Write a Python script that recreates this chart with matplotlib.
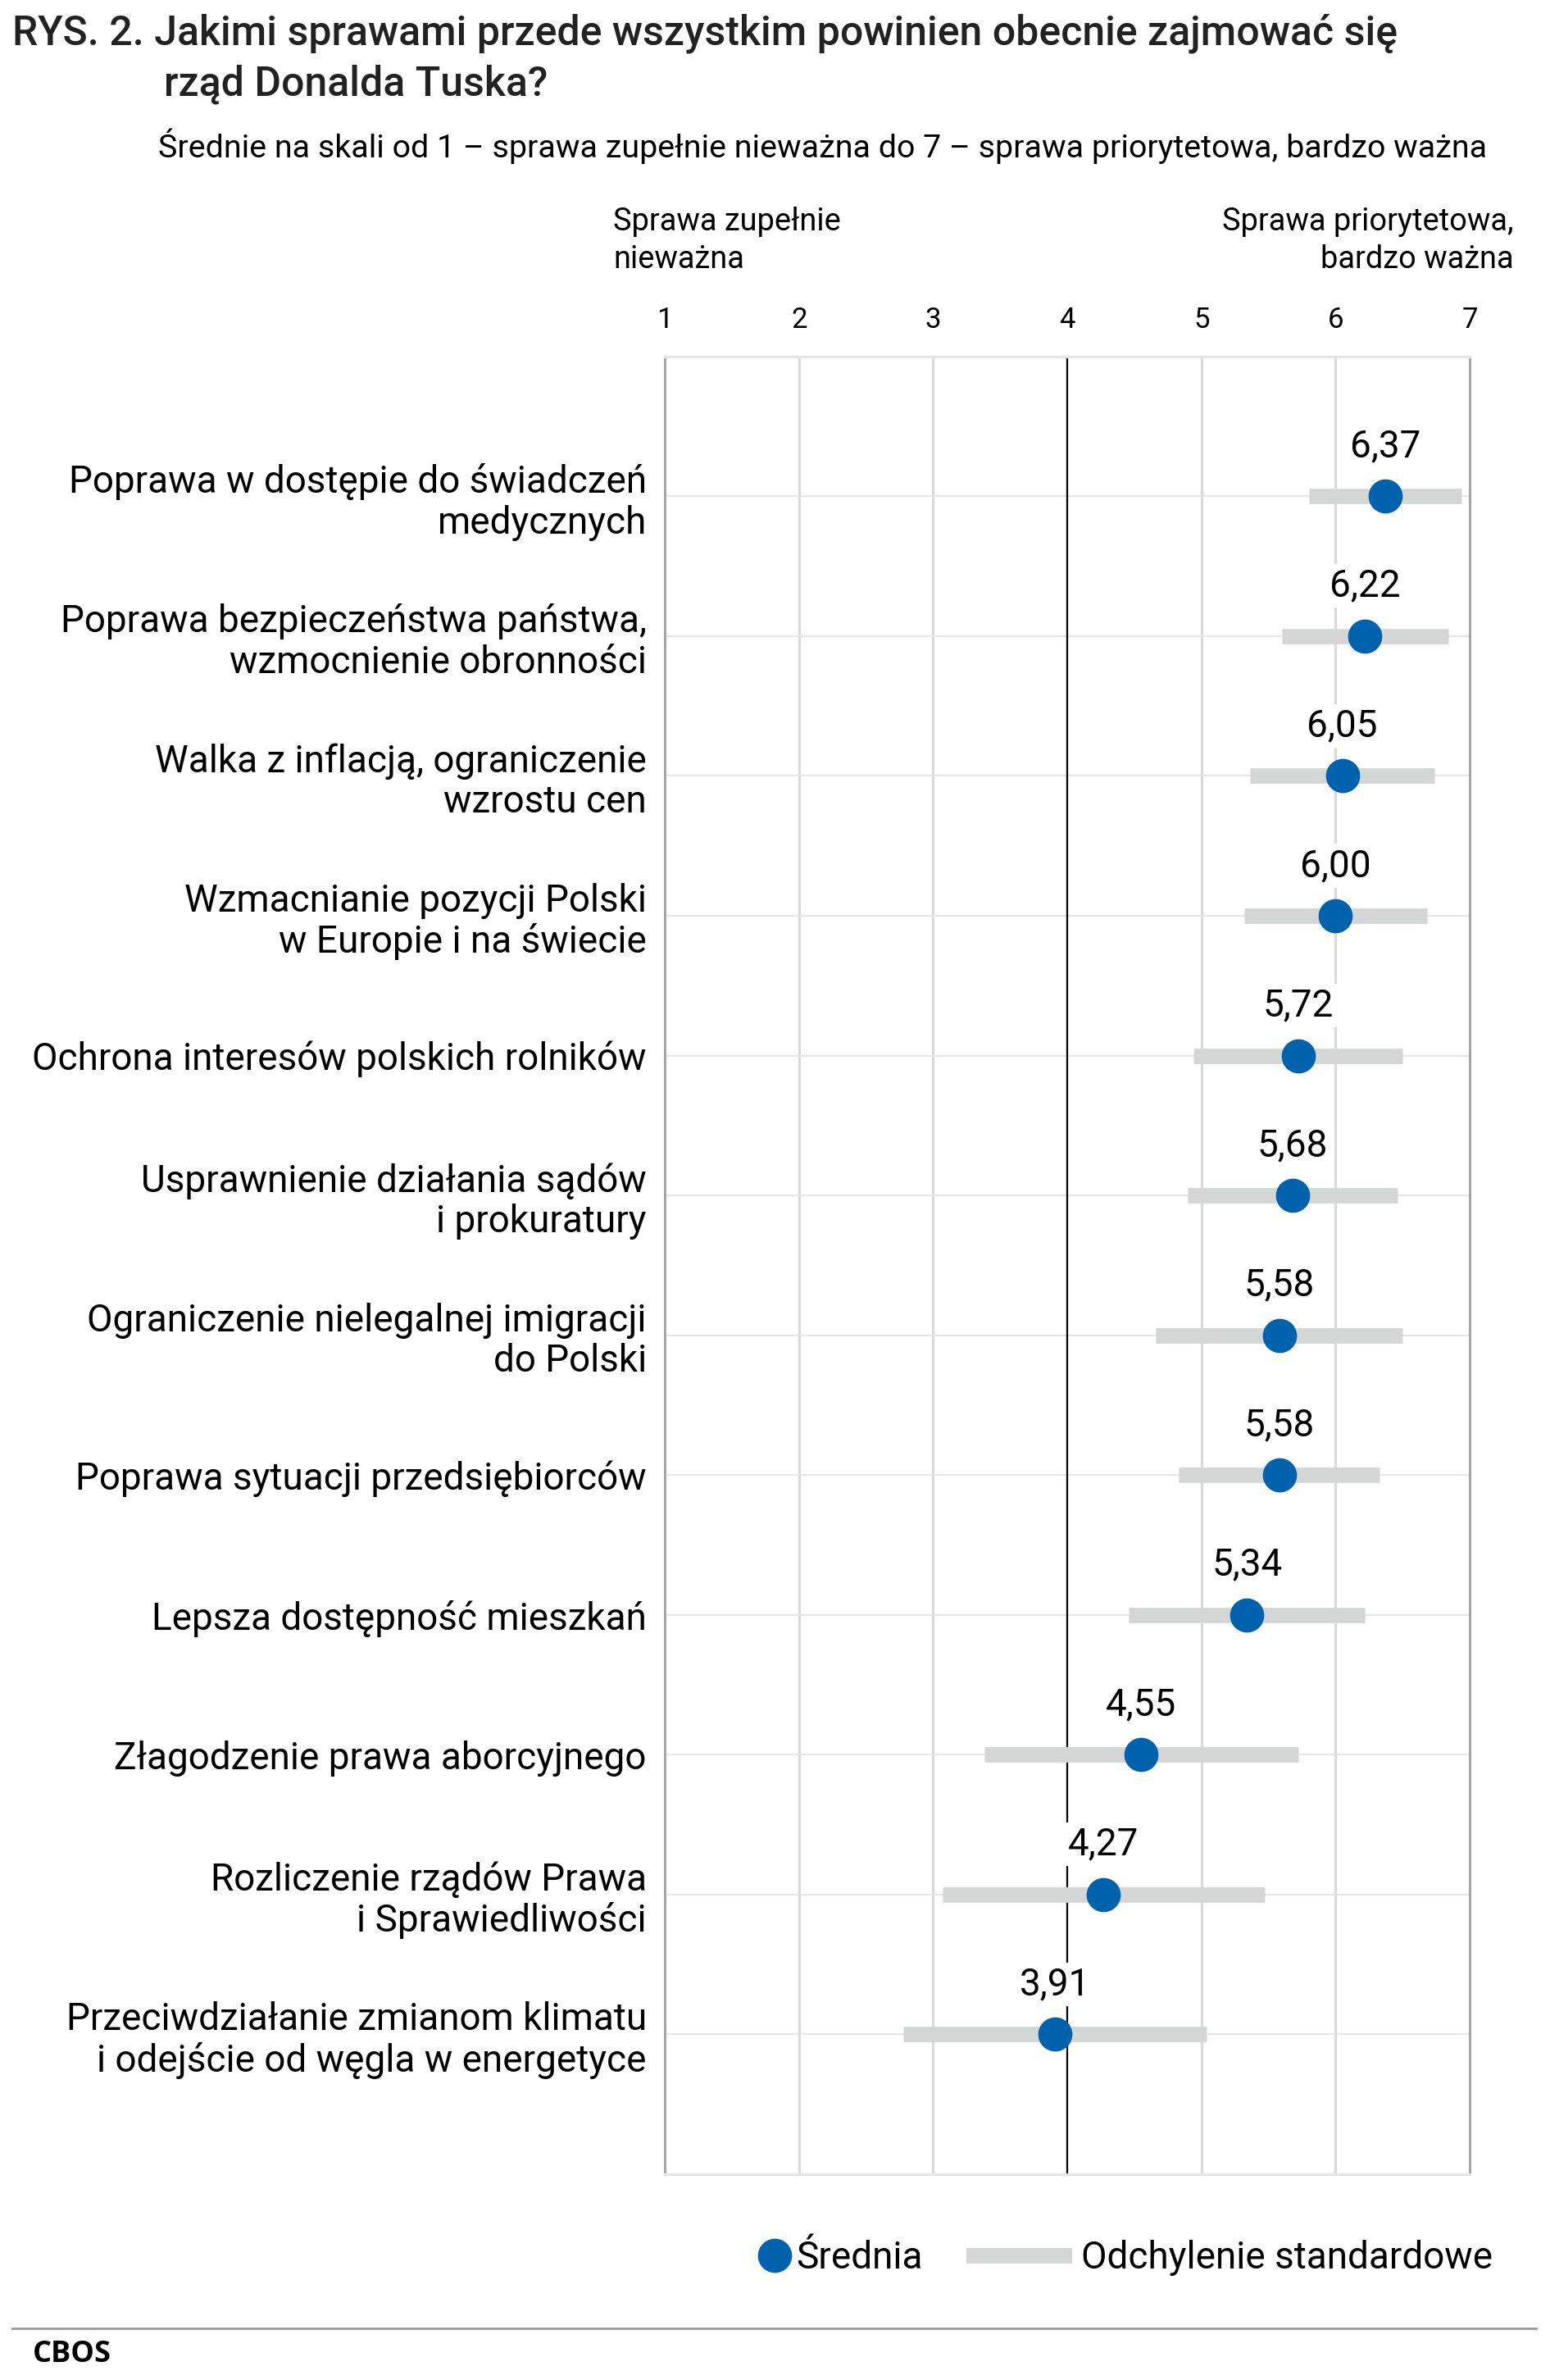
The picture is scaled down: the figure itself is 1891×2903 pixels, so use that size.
import numpy as np
import matplotlib.pyplot as plt
from matplotlib.lines import Line2D

plt.rcParams['font.family'] = ['Roboto', 'DejaVu Sans']

# dane
categories = ['Poprawa w dostępie do świadczeń\nmedycznych',
              'Poprawa bezpieczeństwa państwa,\nwzmocnienie obronności',
              'Walka z inflacją, ograniczenie\nwzrostu cen',
              'Wzmacnianie pozycji Polski\nw Europie i na świecie',
              'Ochrona interesów polskich rolników',
              'Usprawnienie działania sądów\ni prokuratury',
              'Ograniczenie nielegalnej imigracji\ndo Polski',
              'Poprawa sytuacji przedsiębiorców',
              'Lepsza dostępność mieszkań',
              'Złagodzenie prawa aborcyjnego',
              'Rozliczenie rządów Prawa\ni Sprawiedliwości',
              'Przeciwdziałanie zmianom klimatu\ni odejście od węgla w energetyce']
means = [6.37, 6.22, 6.05, 6.00, 5.72, 5.68, 5.58, 5.58, 5.34, 4.55, 4.27, 3.91]
sds = [0.57, 0.62, 0.69, 0.68, 0.78, 0.78, 0.92, 0.75, 0.88, 1.17, 1.20, 1.13]
scale_ticks = [1, 2, 3, 4, 5, 6, 7]

blue = '#0062AD'
grey_bar = '#D4D5D5'

fig = plt.figure(figsize=(18.91, 29.03), dpi=100)
ax = fig.add_axes([0.4289, 0.0865, 0.5193, 0.7637])

y = np.arange(len(categories))

# siatka
for v in scale_ticks[1:-1]:
    if v != 4:
        ax.axvline(v, color='#D9D9D9', lw=2.2, zorder=0)
for yy in y:
    ax.axhline(yy, color='#E6E6E6', lw=1.6, zorder=0)
ax.axvline(4, color='black', lw=1.6, zorder=1)

ax.errorbar(means, y, xerr=sds, fmt='none', ecolor=grey_bar, elinewidth=13.5,
            capsize=0, zorder=2)
ax.plot(means, y, 'o', ms=30, color=blue, mec='none', zorder=3)

for m, yy in zip(means, y):
    ax.annotate(f'{m:.2f}'.replace('.', ','), (m, yy), xytext=(0, 44),
                textcoords='offset points', ha='center', va='center',
                fontsize=33, zorder=4,
                bbox=dict(boxstyle='square,pad=0.1', fc='white', ec='none'))

ax.set_xlim(1, 7)
ax.set_ylim(12, -1)
ax.xaxis.tick_top()
ax.set_xticks(scale_ticks)
ax.set_xticklabels([str(t) for t in scale_ticks])
ax.tick_params(axis='x', length=0, pad=20, labelsize=25)
ax.set_yticks(y)
ax.set_yticklabels(categories, fontsize=33, ha='right', linespacing=1.15)
ax.tick_params(axis='y', length=0, pad=16)

for s in ['left', 'right']:
    ax.spines[s].set_color('#A6A6A6')
    ax.spines[s].set_linewidth(2.2)
for s in ['top', 'bottom']:
    ax.spines[s].set_color('#E6E6E6')
    ax.spines[s].set_linewidth(2.2)

# tytuły
fig.text(0.008, 0.986, 'RYS. 2. Jakimi sprawami przede wszystkim powinien obecnie zajmować się',
         fontsize=36, fontweight='medium', color='#222222', va='center')
fig.text(0.106, 0.9645, 'rząd Donalda Tuska?', fontsize=36, fontweight='medium',
         color='#222222', va='center')
fig.text(0.102, 0.9387, 'Średnie na skali od 1 – sprawa zupełnie nieważna do 7 – sprawa priorytetowa, bardzo ważna',
         fontsize=28.4, va='center')
fig.text(0.3955, 0.899, 'Sprawa zupełnie\nnieważna', fontsize=27.4, va='center', ha='left',
         linespacing=1.3)
fig.text(0.9765, 0.899, 'Sprawa priorytetowa,\nbardzo ważna', fontsize=27.4, va='center',
         ha='right', multialignment='right', linespacing=1.3)

# legenda
h1 = Line2D([], [], marker='o', ls='none', ms=30, color=blue, mec='none')
h2 = Line2D([], [], color=grey_bar, lw=13.5)
leg1 = fig.legend([h1], ['Średnia'], loc='center left', bbox_to_anchor=(0.489, 0.0513),
                  frameon=False, fontsize=33, handlelength=0.9, handletextpad=0.12,
                  borderpad=0, borderaxespad=0)
leg2 = fig.legend([h2], ['Odchylenie standardowe'], loc='center left',
                  bbox_to_anchor=(0.6285, 0.0513), frameon=False, fontsize=33,
                  handlelength=2.4, handletextpad=0.45, borderpad=0, borderaxespad=0)

# stopka
fig.add_artist(Line2D([0.008, 0.991], [0.0217, 0.0217], color='#999999', lw=2,
                      transform=fig.transFigure))
fig.text(0.021, 0.0108, 'CBOS', fontsize=26, fontweight='bold', family='Open Sans',
         va='center')

fig.savefig('out.png', dpi=100, facecolor='white')
